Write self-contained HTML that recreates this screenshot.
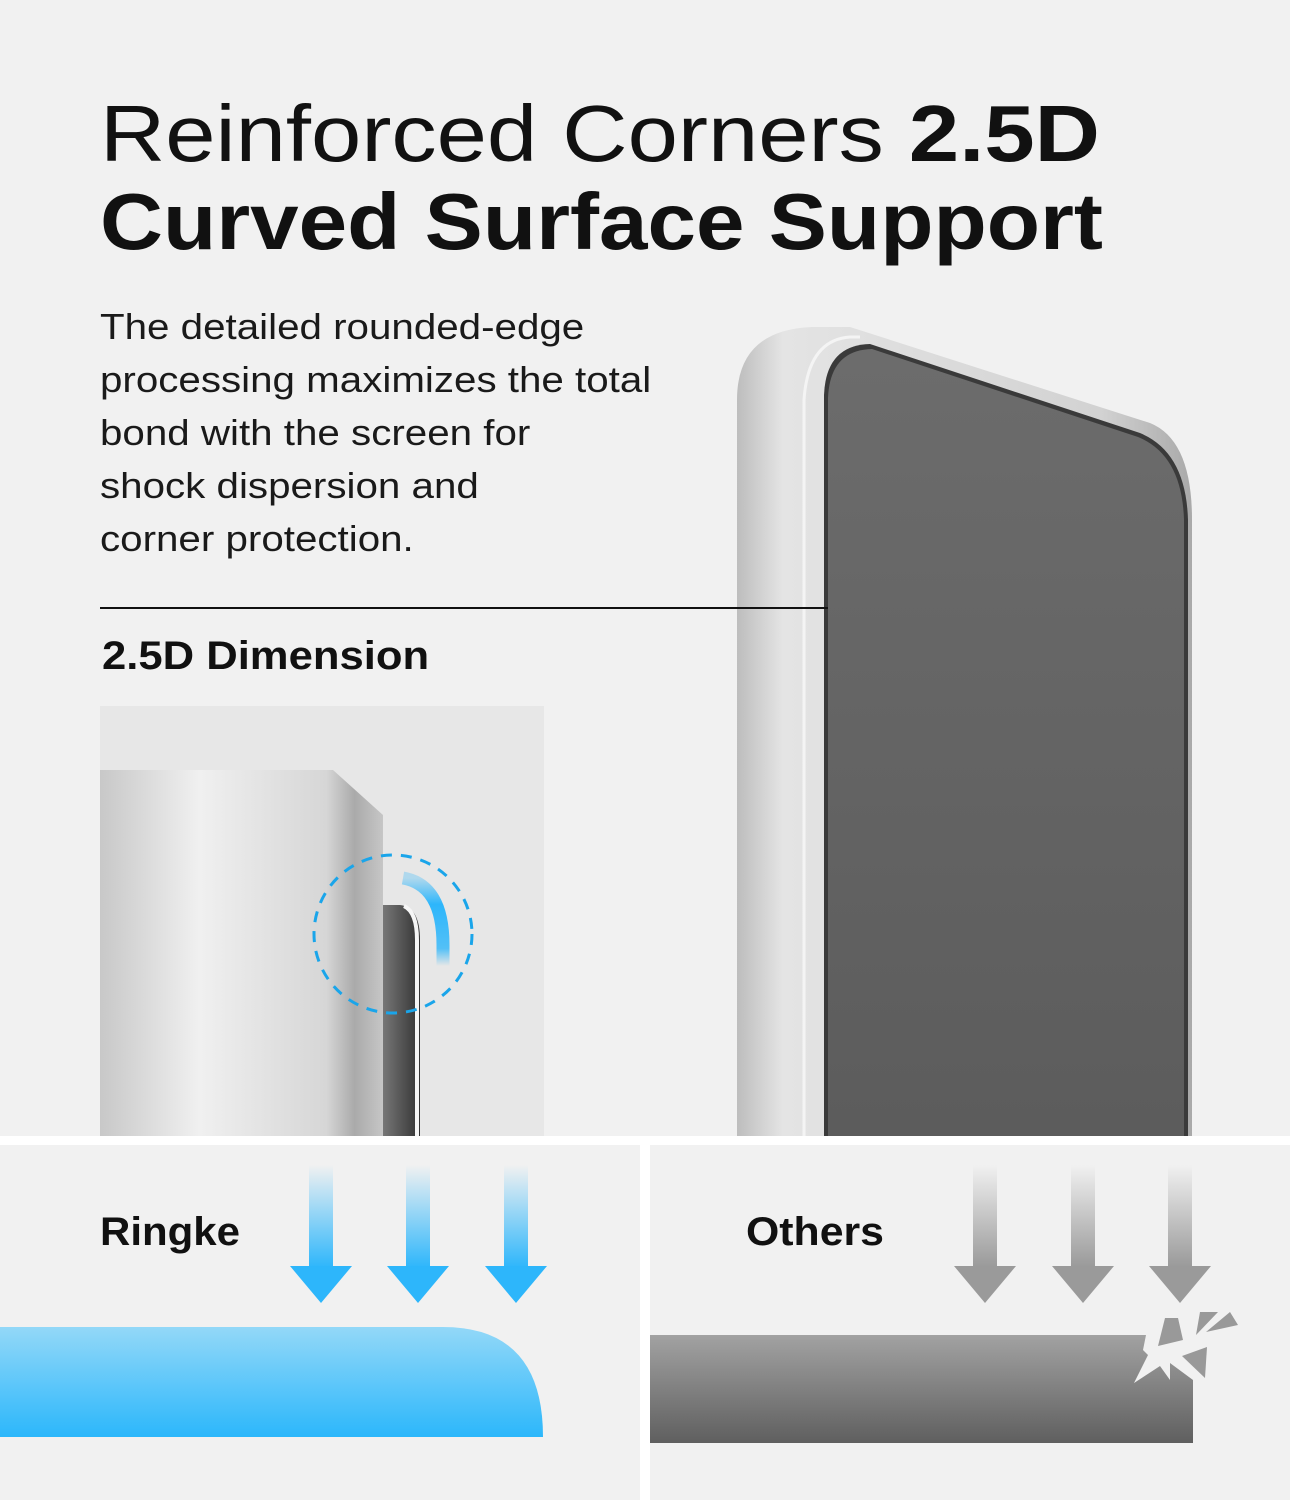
<!DOCTYPE html>
<html><head><meta charset="utf-8"><style>
body{margin:0;width:1290px;height:1500px;background:#f1f1f1;overflow:hidden;position:relative;font-family:"Liberation Sans",sans-serif;color:#111}
.t{position:absolute;left:100px;font-size:80px;line-height:88px;white-space:nowrap;transform-origin:0 0}
.p{position:absolute;left:100px;top:300px;font-size:36px;line-height:53px;color:#1a1a1a;white-space:nowrap;transform:scaleX(1.12);transform-origin:0 0}
.l{position:absolute;font-size:40px;font-weight:bold;transform-origin:0 0;white-space:nowrap}
</style></head><body>
<div class="t" style="top:90px;transform:scaleX(1.13)">Reinforced Corners <b>2.5D</b></div>
<div class="t" style="top:178px;font-weight:bold;transform:scaleX(1.09)">Curved Surface Support</div>
<div class="p">The detailed rounded-edge<br>processing maximizes the total<br>bond with the screen for<br>shock dispersion and<br>corner protection.</div>
<svg width="1290" height="1500" style="position:absolute;left:0;top:0">
<defs>
<linearGradient id="fr" x1="0" x2="1"><stop offset="0" stop-color="#bdbdbd"/><stop offset=".1" stop-color="#e4e4e4"/><stop offset=".8" stop-color="#d2d2d2"/><stop offset="1" stop-color="#a9a9a9"/></linearGradient>
<linearGradient id="sc" x1="0" y1="0" x2="0" y2="1"><stop offset="0" stop-color="#6c6c6c"/><stop offset="1" stop-color="#5c5c5c"/></linearGradient>
<linearGradient id="blk" x1="0" x2="1"><stop offset="0" stop-color="#c8c8c8"/><stop offset=".35" stop-color="#f0f0f0"/><stop offset=".8" stop-color="#d6d6d6"/><stop offset=".9" stop-color="#aaa"/><stop offset="1" stop-color="#c6c6c6"/></linearGradient>
<linearGradient id="ba" x1="0" y1="0" x2="0" y2="1"><stop offset="0" stop-color="#2db6fb" stop-opacity="0"/><stop offset="1" stop-color="#2db6fb"/></linearGradient>
<linearGradient id="ga" x1="0" y1="0" x2="0" y2="1"><stop offset="0" stop-color="#999" stop-opacity="0"/><stop offset="1" stop-color="#999"/></linearGradient>
<linearGradient id="bb" x1="0" y1="0" x2="0" y2="1"><stop offset="0" stop-color="#93d8f8"/><stop offset="1" stop-color="#2cb7fb"/></linearGradient>
<linearGradient id="gb" x1="0" y1="0" x2="0" y2="1"><stop offset="0" stop-color="#a2a2a2"/><stop offset="1" stop-color="#5f5f5f"/></linearGradient>
<linearGradient id="gl" x1="0" x2="1"><stop offset="0" stop-color="#777"/><stop offset=".5" stop-color="#555"/><stop offset="1" stop-color="#333"/></linearGradient>
<linearGradient id="arc" x1="0" y1="0" x2="0" y2="1"><stop offset="0" stop-color="#2db6fb" stop-opacity=".3"/><stop offset=".3" stop-color="#2db6fb"/><stop offset=".8" stop-color="#2db6fb" stop-opacity=".8"/><stop offset="1" stop-color="#2db6fb" stop-opacity="0"/></linearGradient>
</defs>
<path d="M737,1136 L737,400 Q737,330 812,327 L850,327 L1150,423 Q1192,440 1192,520 L1192,1136 Z" fill="url(#fr)"/>
<path d="M804,1136 L804,400 Q808,340 850,337 L860,337" fill="none" stroke="#f4f4f4" stroke-width="3"/>
<path d="M824,1136 L824,395 Q826,345 870,344 L1140,433 Q1186,452 1188,520 L1188,1136 Z" fill="#3a3a3a"/>
<path d="M828,1136 L828,398 Q830,350 872,349 L1138,437 Q1182,455 1184,520 L1184,1136 Z" fill="url(#sc)"/>
<line x1="100" y1="608" x2="828" y2="608" stroke="#111" stroke-width="2"/>
<rect x="100" y="706" width="444" height="430" fill="#e7e7e7"/>
<path d="M383,905 L400,905 Q420,907 420,940 L420,1136 L383,1136 Z" fill="url(#gl)"/>
<path d="M404,906 Q417,912 417,940 L417,1136" fill="none" stroke="#f6f6f6" stroke-width="4"/>
<path d="M100,770 L333,770 L383,815 L383,1136 L100,1136 Z" fill="url(#blk)"/>
<circle cx="393" cy="934" r="79" fill="none" stroke="#1aa5ea" stroke-width="3" stroke-dasharray="11,9"/>
<path d="M403,878 Q443,885 443,945 L443,966" fill="none" stroke="url(#arc)" stroke-width="13"/>
<rect x="0" y="1136" width="1290" height="9" fill="#fff"/>
<rect x="640" y="1145" width="10" height="355" fill="#fff"/>
<g fill="url(#ba)"><rect x="309" y="1165" width="24" height="103"/><rect x="406" y="1165" width="24" height="103"/><rect x="504" y="1165" width="24" height="103"/></g>
<g fill="#2db6fb"><path d="M290,1266 L352,1266 L321,1303Z"/><path d="M387,1266 L449,1266 L418,1303Z"/><path d="M485,1266 L547,1266 L516,1303Z"/></g>
<path d="M0,1327 L443,1327 Q543,1327 543,1437 L0,1437 Z" fill="url(#bb)"/>
<g fill="url(#ga)"><rect x="973" y="1165" width="24" height="103"/><rect x="1071" y="1165" width="24" height="103"/><rect x="1168" y="1165" width="24" height="103"/></g>
<g fill="#9a9a9a"><path d="M954,1266 L1016,1266 L985,1303Z"/><path d="M1052,1266 L1114,1266 L1083,1303Z"/><path d="M1149,1266 L1211,1266 L1180,1303Z"/></g>
<path d="M650,1335 L1146,1335 L1143,1350 L1148,1355 L1134,1383 L1160,1366 L1170,1380 L1170,1363 L1193,1380 L1193,1443 L650,1443 Z" fill="url(#gb)"/>
<path d="M1165,1318 L1178,1318 L1183,1340 L1158,1346 Z" fill="#999"/>
<path d="M1200,1312 L1218,1312 L1196,1335 Z" fill="#999"/>
<path d="M1230,1312 L1238,1325 L1206,1332 Z" fill="#999"/>
<path d="M1182,1356 L1207,1347 L1205,1378 Z" fill="#999"/>
</svg>
<div class="l" style="left:102px;top:634px;transform:scaleX(1.09)">2.5D Dimension</div>
<div class="l" style="left:100px;top:1210px;transform:scaleX(1.05)">Ringke</div>
<div class="l" style="left:746px;top:1210px;transform:scaleX(1.07)">Others</div>
</body></html>
